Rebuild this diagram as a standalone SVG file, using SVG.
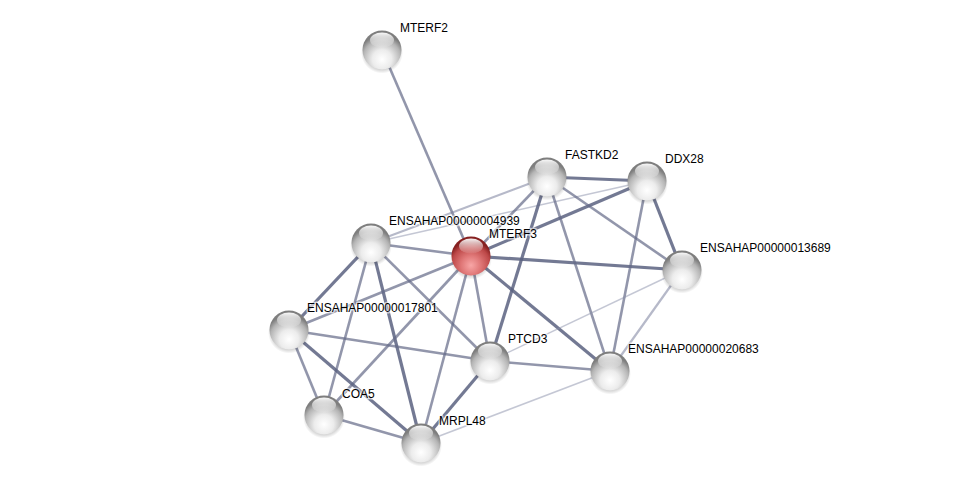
<svg xmlns="http://www.w3.org/2000/svg" width="975" height="488" viewBox="0 0 975 488">
<defs>
<radialGradient id="gw" cx="50%" cy="74%" r="62%">
<stop offset="0" stop-color="#ffffff"/>
<stop offset="0.4" stop-color="#ececec"/>
<stop offset="0.8" stop-color="#b4b4b4"/>
<stop offset="1" stop-color="#7e7e7e"/>
</radialGradient>
<radialGradient id="gr" cx="50%" cy="74%" r="62%">
<stop offset="0" stop-color="#f8a6a6"/>
<stop offset="0.4" stop-color="#e07878"/>
<stop offset="0.8" stop-color="#bd4848"/>
<stop offset="1" stop-color="#862020"/>
</radialGradient>
<linearGradient id="hl" x1="0" y1="0" x2="0" y2="1">
<stop offset="0" stop-color="#ffffff" stop-opacity="0.95"/>
<stop offset="1" stop-color="#ffffff" stop-opacity="0.05"/>
</linearGradient>
<radialGradient id="sh" cx="50%" cy="50%" r="50%">
<stop offset="0.6" stop-color="#000" stop-opacity="0.35"/>
<stop offset="1" stop-color="#000" stop-opacity="0"/>
</radialGradient>
<g id="ball">
<circle cx="0" cy="2.5" r="21" fill="url(#sh)"/>
<circle cx="0" cy="0" r="19.5" fill="url(#gw)"/>
<ellipse cx="0" cy="-10" rx="12" ry="7.5" fill="url(#hl)"/>
</g>
<g id="ballr">
<circle cx="0" cy="2.5" r="21" fill="url(#sh)"/>
<circle cx="0" cy="0" r="19.5" fill="url(#gr)"/>
<ellipse cx="0" cy="-10" rx="12" ry="7.5" fill="url(#hl)"/>
</g>
</defs>
<style>
.e{stroke-linecap:butt;fill:none}
.t{stroke:#5b6180;stroke-width:3.2;stroke-opacity:0.85}
.m{stroke:#646a88;stroke-width:2.6;stroke-opacity:0.7}
.l{stroke:#7a809c;stroke-width:2.2;stroke-opacity:0.55}
.x{stroke:#8a90aa;stroke-width:1.5;stroke-opacity:0.5}
text{font-family:"Liberation Sans",Arial,sans-serif;font-size:12px;fill:#000;stroke:#fff;stroke-width:3;stroke-opacity:0.6;paint-order:stroke;stroke-linejoin:round}
</style>
<rect width="975" height="488" fill="#fff"/>
<g id="edges">
<line class="e m" x1="382" y1="50" x2="471" y2="256"/>
<line class="e l" x1="371" y1="243" x2="547" y2="177"/>
<line class="e x" x1="371" y1="243" x2="647" y2="181"/>
<line class="e m" x1="371" y1="243" x2="471" y2="256"/>
<line class="e t" x1="371" y1="243" x2="289" y2="330"/>
<line class="e m" x1="371" y1="243" x2="324" y2="415"/>
<line class="e t" x1="371" y1="243" x2="421" y2="443"/>
<line class="e m" x1="371" y1="243" x2="490" y2="361"/>
<line class="e m" x1="289" y1="330" x2="471" y2="256"/>
<line class="e m" x1="471" y1="256" x2="324" y2="415"/>
<line class="e m" x1="471" y1="256" x2="421" y2="443"/>
<line class="e m" x1="471" y1="256" x2="490" y2="361"/>
<line class="e t" x1="471" y1="256" x2="610" y2="371"/>
<line class="e t" x1="471" y1="256" x2="682" y2="270"/>
<line class="e t" x1="471" y1="256" x2="647" y2="181"/>
<line class="e m" x1="471" y1="256" x2="547" y2="177"/>
<line class="e t" x1="547" y1="177" x2="647" y2="181"/>
<line class="e t" x1="547" y1="177" x2="490" y2="361"/>
<line class="e m" x1="547" y1="177" x2="610" y2="371"/>
<line class="e m" x1="547" y1="177" x2="682" y2="270"/>
<line class="e t" x1="647" y1="181" x2="682" y2="270"/>
<line class="e m" x1="647" y1="181" x2="610" y2="371"/>
<line class="e x" x1="682" y1="270" x2="490" y2="361"/>
<line class="e l" x1="682" y1="270" x2="610" y2="371"/>
<line class="e m" x1="289" y1="330" x2="490" y2="361"/>
<line class="e m" x1="289" y1="330" x2="324" y2="415"/>
<line class="e t" x1="289" y1="330" x2="421" y2="443"/>
<line class="e m" x1="490" y1="361" x2="610" y2="371"/>
<line class="e t" x1="490" y1="361" x2="421" y2="443"/>
<line class="e x" x1="610" y1="371" x2="421" y2="443"/>
<line class="e m" x1="324" y1="415" x2="421" y2="443"/>
</g>
<g id="n-MTERF2"><use href="#ball" x="382" y="50"/><text x="400" y="32">MTERF2</text></g>
<g id="n-FASTKD2"><use href="#ball" x="547" y="177"/><text x="565" y="159">FASTKD2</text></g>
<g id="n-DDX28"><use href="#ball" x="647" y="181"/><text x="665" y="163">DDX28</text></g>
<g id="n-ENSAHAP00000004939"><use href="#ball" x="371" y="243"/><text x="389" y="225">ENSAHAP00000004939</text></g>
<g id="n-MTERF3"><use href="#ballr" x="471" y="256"/><text x="489" y="238">MTERF3</text></g>
<g id="n-ENSAHAP00000013689"><use href="#ball" x="682" y="270"/><text x="700" y="252">ENSAHAP00000013689</text></g>
<g id="n-ENSAHAP00000017801"><use href="#ball" x="289" y="330"/><text x="307" y="312">ENSAHAP00000017801</text></g>
<g id="n-PTCD3"><use href="#ball" x="490" y="361"/><text x="508" y="343">PTCD3</text></g>
<g id="n-ENSAHAP00000020683"><use href="#ball" x="610" y="371"/><text x="628" y="353">ENSAHAP00000020683</text></g>
<g id="n-COA5"><use href="#ball" x="324" y="415"/><text x="342" y="398">COA5</text></g>
<g id="n-MRPL48"><use href="#ball" x="421" y="443"/><text x="439" y="425">MRPL48</text></g>
</svg>
